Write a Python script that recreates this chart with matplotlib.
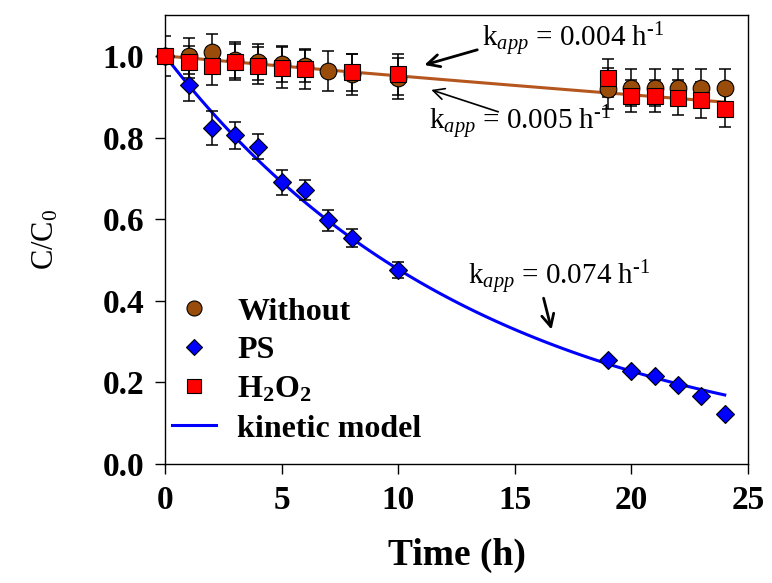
import numpy as np
import matplotlib
matplotlib.use("Agg")
import matplotlib.pyplot as plt

plt.rcParams['font.family'] = ['Liberation Serif', 'DejaVu Serif']
plt.rcParams['mathtext.fontset'] = 'custom'
plt.rcParams['mathtext.rm'] = 'Liberation Serif'
plt.rcParams['mathtext.it'] = 'Liberation Serif:italic'
plt.rcParams['mathtext.bf'] = 'Liberation Serif:bold'

# data
t_without = [0, 1, 2, 3, 4, 5, 6, 7, 8, 10, 19, 20, 21, 22, 23, 24]
c_without = [1.00, 1.00, 1.01, 0.99, 0.985, 0.98, 0.975, 0.963, 0.955, 0.945,
             0.92, 0.922, 0.922, 0.922, 0.922, 0.922]
e_without = [0.05, 0.045, 0.045, 0.045, 0.045, 0.045, 0.04, 0.05, 0.05, 0.05,
             0.05, 0.045, 0.045, 0.045, 0.045, 0.045]

t_ps = [0, 1, 2, 3, 4, 5, 6, 7, 8, 10, 19, 20, 21, 22, 23, 24]
c_ps = [1.00, 0.929, 0.824, 0.806, 0.778, 0.69, 0.672, 0.597, 0.553, 0.476,
        0.254, 0.228, 0.216, 0.193, 0.167, 0.122]
e_ps = [0.0, 0.04, 0.042, 0.033, 0.03, 0.03, 0.025, 0.025, 0.022, 0.02,
        0.0, 0.0, 0.0, 0.0, 0.0, 0.0]

t_h2o2 = [0, 1, 2, 3, 4, 5, 6, 8, 10, 19, 20, 21, 22, 23, 24]
c_h2o2 = [1.00, 0.985, 0.976, 0.985, 0.976, 0.971, 0.968, 0.96, 0.955,
          0.946, 0.902, 0.902, 0.898, 0.892, 0.87]
e_h2o2 = [0.0, 0.04, 0.046, 0.045, 0.045, 0.05, 0.05, 0.045, 0.05,
          0.047, 0.04, 0.04, 0.042, 0.045, 0.045]

# apparent rate constants (h^-1)
k_without = 0.004
k_h2o2 = 0.005
k_ps = 0.074
t_model = np.linspace(0, 24, 100)

brown = '#9a4d0a'
line_brown = '#b5561e'

fig = plt.figure(figsize=(7.72, 5.83), dpi=100)
ax = fig.add_axes([0.214, 0.204, 0.755, 0.770])

# model curves
ax.plot(t_model, np.exp(-k_h2o2 * t_model), color=line_brown, lw=2.2, zorder=2)
ax.plot(t_model, np.exp(-k_ps * t_model), color='#0000ff', lw=2.2, zorder=2,
        label='kinetic model')

# error bars
for t, c, e in [(t_without, c_without, e_without), (t_ps, c_ps, e_ps),
                (t_h2o2, c_h2o2, e_h2o2)]:
    ax.errorbar(t, c, yerr=e, fmt='none', ecolor='black', elinewidth=1.1,
                capsize=4, capthick=1.1, zorder=3)

# markers
ax.plot(t_without, c_without, 'o', ms=12, mfc=brown, mec='black', mew=0.8,
        clip_on=False, zorder=4, label='Without')
ax.plot(t_ps, c_ps, 'D', ms=9.5, mfc='#0000ff', mec='black', mew=0.8,
        clip_on=False, zorder=5, label='PS')
ax.plot(t_h2o2, c_h2o2, 's', ms=11.5, mfc='#ff0000', mec='black', mew=0.8,
        clip_on=False, zorder=6, label=r'$\mathbf{H_2O_2}$')

# annotations
ax.text(13.6, 1.039, r'k$_{\mathit{app}}$ = 0.004 h$^{\text{-1}}$', fontsize=21,
        va='center', ha='left')
ax.annotate('', xy=(11.0, 0.976), xytext=(13.5, 1.017),
            arrowprops=dict(arrowstyle='->', lw=2, color='black',
                            mutation_scale=22))
ax.text(11.3, 0.836, r'k$_{\mathit{app}}$ = 0.005 h$^{\text{-1}}$', fontsize=21,
        va='center', ha='left')
ax.annotate('', xy=(11.3, 0.919), xytext=(14.4, 0.861),
            arrowprops=dict(arrowstyle='->', lw=1.2, color='black',
                            mutation_scale=20))
ax.text(13.0, 0.457, r'k$_{\mathit{app}}$ = 0.074 h$^{\text{-1}}$', fontsize=21,
        va='center', ha='left')
ax.annotate('', xy=(16.6, 0.323), xytext=(16.2, 0.413),
            arrowprops=dict(arrowstyle='->', lw=2, color='black',
                            mutation_scale=22))

ax.set_xlim(0, 25)
ax.set_ylim(0, 1.1)
ax.set_xticks([0, 5, 10, 15, 20, 25])
ax.set_yticks([0.0, 0.2, 0.4, 0.6, 0.8, 1.0])
ax.set_yticklabels(['0.0', '0.2', '0.4', '0.6', '0.8', '1.0'])
ax.tick_params(direction='out', length=7, width=1, labelsize=24, pad=8)
for lab in ax.get_xticklabels() + ax.get_yticklabels():
    lab.set_fontweight('bold')
for sp in ax.spines.values():
    sp.set_linewidth(1)
ax.set_xlabel('Time (h)', fontsize=27, fontweight='bold', labelpad=16)
ax.set_ylabel(r'C/C$_0$', fontsize=22, labelpad=30)

handles, labels = ax.get_legend_handles_labels()
order = [1, 2, 3, 0]
leg = ax.legend([handles[i] for i in order], [labels[i] for i in order],
                loc='upper left', bbox_to_anchor=(0.0, 0.386), frameon=False,
                prop={'weight': 'bold', 'size': 23}, markerscale=0.9,
                handlelength=1.4, handletextpad=0.65, labelspacing=0.3,
                borderpad=0, borderaxespad=0.2)

fig.savefig('out.png', dpi=100)
